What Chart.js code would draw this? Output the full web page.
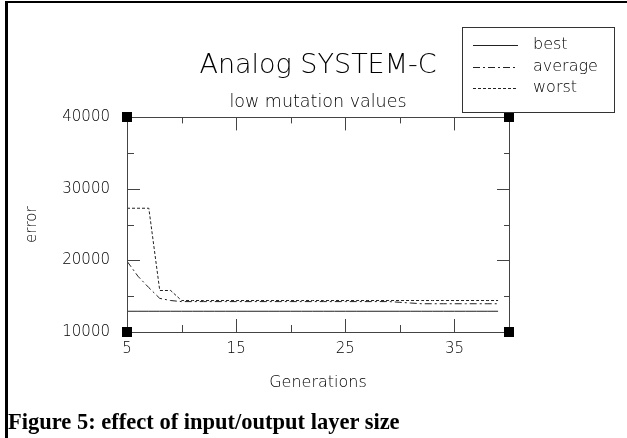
<!DOCTYPE html>
<html>
<head>
<meta charset="utf-8">
<script src="https://cdn.jsdelivr.net/npm/chart.js@4.4.1/dist/chart.umd.min.js"></script>
<style>
  html, body { margin: 0; padding: 0; background: #fff; }
  #wrap { position: relative; width: 627px; height: 438px; overflow: hidden; }
  #frame { position: absolute; left: 5px; top: 1px; width: 622px; height: 437px;
           border-top: 2px solid #000; border-left: 3px solid #000; box-sizing: border-box; }
  #chart { position: absolute; left: 0; top: 0; }
  #caption { position: absolute; left: 8px; top: 409px; line-height: 20px; white-space: nowrap;
             font: bold 22.5px "Liberation Serif", "Times New Roman", serif; color: #000; }
</style>
</head>
<body>
<div id="wrap">
  <div id="frame"></div>
  <canvas id="chart" width="627" height="438"></canvas>
  <div id="caption">Figure 5: effect of input/output layer size</div>
</div>
<script>
var generations = [5, 6, 7, 8, 9, 10, 11, 12, 13, 14, 15, 16, 17, 18, 19, 20, 21, 22, 23, 24,
  25, 26, 27, 28, 29, 30, 31, 32, 33, 34, 35, 36, 37, 38, 39];
var best = [12900, 12900, 12900, 12900, 12900, 12900, 12900, 12900, 12900, 12900, 12900, 12900,
  12900, 12900, 12900, 12900, 12900, 12900, 12900, 12900, 12900, 12900, 12900, 12900, 12900,
  12900, 12900, 12900, 12900, 12900, 12900, 12900, 12900, 12900, 12900];
var average = [19900, 17800, 16200, 14700, 14400, 14250, 14250, 14250, 14250, 14250, 14250, 14250,
  14250, 14250, 14250, 14250, 14250, 14250, 14250, 14250, 14250, 14250, 14250, 14250, 14250,
  14150, 14050, 13950, 13950, 13950, 13950, 13950, 13950, 13950, 13950];
var worst = [27300, 27300, 27300, 15800, 15800, 14400, 14400, 14400, 14400, 14400, 14400, 14400,
  14400, 14400, 14400, 14400, 14400, 14400, 14400, 14400, 14400, 14400, 14400, 14400, 14400,
  14400, 14400, 14400, 14400, 14400, 14400, 14400, 14400, 14400, 14400];
var xTickLabels = [5, 15, 25, 35];
var yTickLabels = [10000, 20000, 30000, 40000];

var FONT = "'DejaVu Sans', 'Liberation Sans', sans-serif";
var INK = "#222";
var TEXT = "#000";

function points(values) {
  return generations.map(function (g, i) {
    return { x: g, y: values[i] };
  });
}

// box, inward ticks, corner squares and the boxed legend
var plotFrame = {
  id: "plotFrame",
  afterDatasetsDraw: function (chart) {
    var ctx = chart.ctx;
    var a = chart.chartArea;
    var xs = chart.scales.x;
    var ys = chart.scales.y;
    ctx.save();
    ctx.strokeStyle = "#444";
    ctx.lineWidth = 1;
    ctx.strokeRect(Math.round(a.left) + 0.5, Math.round(a.top) + 0.5,
      Math.round(a.right - a.left), Math.round(a.bottom - a.top));

    ctx.beginPath();
    xs.ticks.forEach(function (t) {
      var px = Math.round(xs.getPixelForValue(t.value)) + 0.5;
      var major = xTickLabels.indexOf(t.value) >= 0;
      ctx.moveTo(px, a.bottom);
      ctx.lineTo(px, a.bottom - (major ? 13 : 7));
      ctx.moveTo(px, a.top);
      ctx.lineTo(px, a.top + (major ? 13 : 6));
    });
    ys.ticks.forEach(function (t) {
      var py = Math.round(ys.getPixelForValue(t.value)) + 0.5;
      var major = yTickLabels.indexOf(t.value) >= 0;
      ctx.moveTo(a.left, py);
      ctx.lineTo(a.left + (major ? 13 : 7), py);
      ctx.moveTo(a.right, py);
      ctx.lineTo(a.right - (major ? 12 : 5), py);
    });
    ctx.stroke();

    ctx.fillStyle = "#000";
    [[a.left, a.top], [a.right, a.top], [a.left, a.bottom], [a.right, a.bottom]].forEach(function (c) {
      ctx.fillRect(Math.round(c[0]) - 5, Math.round(c[1]) - 5, 10, 10);
    });

    // legend
    ctx.strokeStyle = "#333";
    ctx.strokeRect(462.5, 27.5, 152, 85);
    var rows = [45, 67, 88];
    ctx.font = "200 16px " + FONT;
    ctx.textBaseline = "middle";
    chart.data.datasets.forEach(function (ds, i) {
      ctx.strokeStyle = INK;
      ctx.setLineDash(ds.borderDash || []);
      ctx.beginPath();
      ctx.moveTo(473, rows[i] + 0.5);
      ctx.lineTo(518, rows[i] + 0.5);
      ctx.stroke();
      ctx.setLineDash([]);
      ctx.fillStyle = TEXT;
      ctx.fillText(ds.label, 533, rows[i]);
    });
    ctx.restore();
  }
};

new Chart(document.getElementById("chart"), {
  type: "line",
  data: {
    datasets: [
      { label: "best", data: points(best), borderColor: INK, borderWidth: 1, borderDash: [] },
      { label: "average", data: points(average), borderColor: INK, borderWidth: 1, borderDash: [7, 3, 2, 3] },
      { label: "worst", data: points(worst), borderColor: INK, borderWidth: 1, borderDash: [3, 2] }
    ]
  },
  options: {
    responsive: false,
    animation: false,
    layout: { padding: { left: 0, right: 118, top: 0, bottom: 36 } },
    elements: { point: { radius: 0 }, line: { tension: 0 } },
    plugins: {
      legend: { display: false },
      tooltip: { enabled: false },
      title: {
        display: true,
        text: "Analog SYSTEM-C",
        fullSize: false,
        color: TEXT,
        font: { family: FONT, size: 27, weight: 200 },
        padding: { top: 50, bottom: 0 }
      },
      subtitle: {
        display: true,
        text: "low mutation values",
        fullSize: false,
        color: TEXT,
        font: { family: FONT, size: 17.5, weight: 200 },
        padding: { top: 10, bottom: 4 }
      }
    },
    scales: {
      x: {
        type: "linear",
        min: 5,
        max: 40,
        grid: { display: false, drawTicks: false },
        border: { display: false },
        ticks: {
          stepSize: 5,
          autoSkip: false,
          maxRotation: 0,
          padding: 8,
          color: TEXT,
          font: { family: FONT, size: 15, weight: 200 },
          callback: function (v) { return xTickLabels.indexOf(v) >= 0 ? String(v) : ""; }
        },
        title: {
          display: true,
          text: "Generations",
          color: TEXT,
          font: { family: FONT, size: 16, weight: 200 },
          padding: { top: 0, bottom: 10 }
        },
        afterFit: function (scale) { scale.height = 70; }
      },
      y: {
        type: "linear",
        min: 10000,
        max: 40000,
        grid: { display: false, drawTicks: false },
        border: { display: false },
        ticks: {
          stepSize: 5000,
          padding: 17,
          color: TEXT,
          font: { family: FONT, size: 15, weight: 200 },
          callback: function (v) { return yTickLabels.indexOf(v) >= 0 ? String(v) : ""; }
        },
        title: {
          display: true,
          text: "error",
          color: TEXT,
          font: { family: FONT, size: 15, weight: 200 },
          padding: { top: 23, bottom: 0 }
        },
        afterFit: function (scale) { scale.width = 127; }
      }
    }
  },
  plugins: [plotFrame]
});
</script>
</body>
</html>
